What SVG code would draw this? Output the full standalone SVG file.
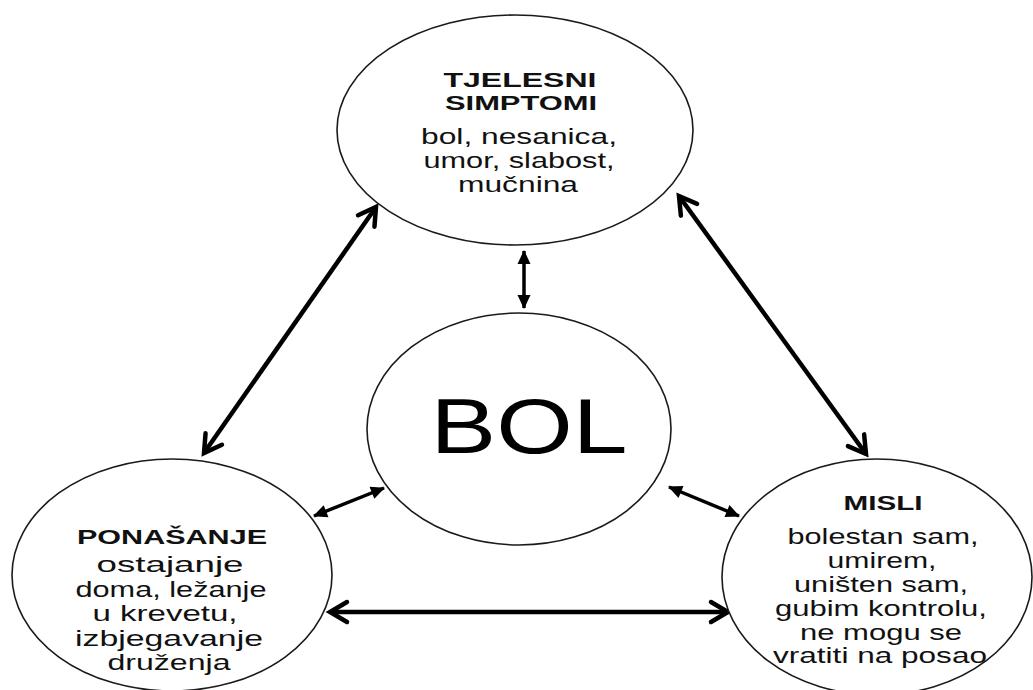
<svg xmlns="http://www.w3.org/2000/svg" width="1033" height="690" viewBox="0 0 1033 690">
<style>
  .node ellipse { fill: #ffffff; stroke: #1a1a1a; stroke-width: 1.6; }
  .hd { font-family: "Liberation Sans", Arial, sans-serif; font-weight: bold; font-size: 21px; fill: #111; text-anchor: middle; }
  .bd { font-family: "Liberation Sans", Arial, sans-serif; font-size: 22.5px; fill: #111; text-anchor: middle; }
  .big { font-family: "Liberation Sans", Arial, sans-serif; font-size: 78px; fill: #000; text-anchor: middle; }
  .long { stroke: #000; stroke-width: 4.5; fill: none; }
  .short { stroke: #000; stroke-width: 3.5; fill: none; }
</style>
<defs>
  <marker id="chev" markerUnits="userSpaceOnUse" markerWidth="40" markerHeight="40" viewBox="-24 -20 30 40" refX="0" refY="0" orient="auto-start-reverse" overflow="visible">
    <path d="M -17 -10 L 0 0 L -17 10" fill="none" stroke="#000" stroke-width="4.5" stroke-linejoin="miter" stroke-linecap="round"/>
  </marker>
  <marker id="tri" markerUnits="userSpaceOnUse" markerWidth="30" markerHeight="30" viewBox="-18 -15 24 30" refX="0" refY="0" orient="auto-start-reverse" overflow="visible">
    <path d="M 1 0 L -13 -6.5 L -13 6.5 Z" fill="#000"/>
  </marker>
</defs>
<rect width="1033" height="690" fill="#ffffff"/>

<g id="connectors">
  <line class="long" x1="376" y1="207" x2="204" y2="453" marker-start="url(#chev)" marker-end="url(#chev)"/>
  <line class="long" x1="679" y1="196" x2="866" y2="454" marker-start="url(#chev)" marker-end="url(#chev)"/>
  <line class="long" x1="330" y1="612" x2="728" y2="612" marker-start="url(#chev)" marker-end="url(#chev)"/>
  <line class="short" x1="524" y1="251" x2="524" y2="308" marker-start="url(#tri)" marker-end="url(#tri)"/>
  <line class="short" x1="384" y1="488" x2="314" y2="516" marker-start="url(#tri)" marker-end="url(#tri)"/>
  <line class="short" x1="669" y1="487" x2="739" y2="516" marker-start="url(#tri)" marker-end="url(#tri)"/>
</g>

<g id="node-tjelesni" class="node">
  <ellipse cx="515" cy="130" rx="178" ry="115"/>
  <text class="hd" x="520" y="87" textLength="153" lengthAdjust="spacingAndGlyphs">TJELESNI</text>
  <text class="hd" x="521" y="110" textLength="152" lengthAdjust="spacingAndGlyphs">SIMPTOMI</text>
  <text class="bd" x="519" y="144" textLength="196" lengthAdjust="spacingAndGlyphs">bol, nesanica,</text>
  <text class="bd" x="519" y="168" textLength="191" lengthAdjust="spacingAndGlyphs">umor, slabost,</text>
  <text class="bd" x="518" y="192" textLength="120" lengthAdjust="spacingAndGlyphs">mučnina</text>
</g>

<g id="node-bol" class="node">
  <ellipse cx="519" cy="429" rx="152" ry="116"/>
  <text class="big" x="529" y="453" textLength="197" lengthAdjust="spacingAndGlyphs">BOL</text>
</g>

<g id="node-ponasanje" class="node">
  <ellipse cx="172" cy="575" rx="160" ry="116"/>
  <text class="hd" x="172" y="544" textLength="190" lengthAdjust="spacingAndGlyphs">PONAŠANJE</text>
  <text class="bd" x="170" y="572" textLength="147" lengthAdjust="spacingAndGlyphs">ostajanje</text>
  <text class="bd" x="171" y="597" textLength="191" lengthAdjust="spacingAndGlyphs">doma, ležanje</text>
  <text class="bd" x="165" y="621" textLength="145" lengthAdjust="spacingAndGlyphs">u krevetu,</text>
  <text class="bd" x="169" y="646" textLength="188" lengthAdjust="spacingAndGlyphs">izbjegavanje</text>
  <text class="bd" x="169" y="670" textLength="123" lengthAdjust="spacingAndGlyphs">druženja</text>
</g>

<g id="node-misli" class="node">
  <ellipse cx="877" cy="577" rx="155" ry="118"/>
  <text class="hd" x="883" y="510" textLength="79" lengthAdjust="spacingAndGlyphs">MISLI</text>
  <text class="bd" x="883" y="544" textLength="191" lengthAdjust="spacingAndGlyphs">bolestan sam,</text>
  <text class="bd" x="882" y="568" textLength="109" lengthAdjust="spacingAndGlyphs">umirem,</text>
  <text class="bd" x="881" y="592" textLength="174" lengthAdjust="spacingAndGlyphs">uništen sam,</text>
  <text class="bd" x="881" y="616" textLength="212" lengthAdjust="spacingAndGlyphs">gubim kontrolu,</text>
  <text class="bd" x="881" y="640" textLength="162" lengthAdjust="spacingAndGlyphs">ne mogu se</text>
  <text class="bd" x="880" y="663" textLength="214" lengthAdjust="spacingAndGlyphs">vratiti na posao</text>
</g>
</svg>
